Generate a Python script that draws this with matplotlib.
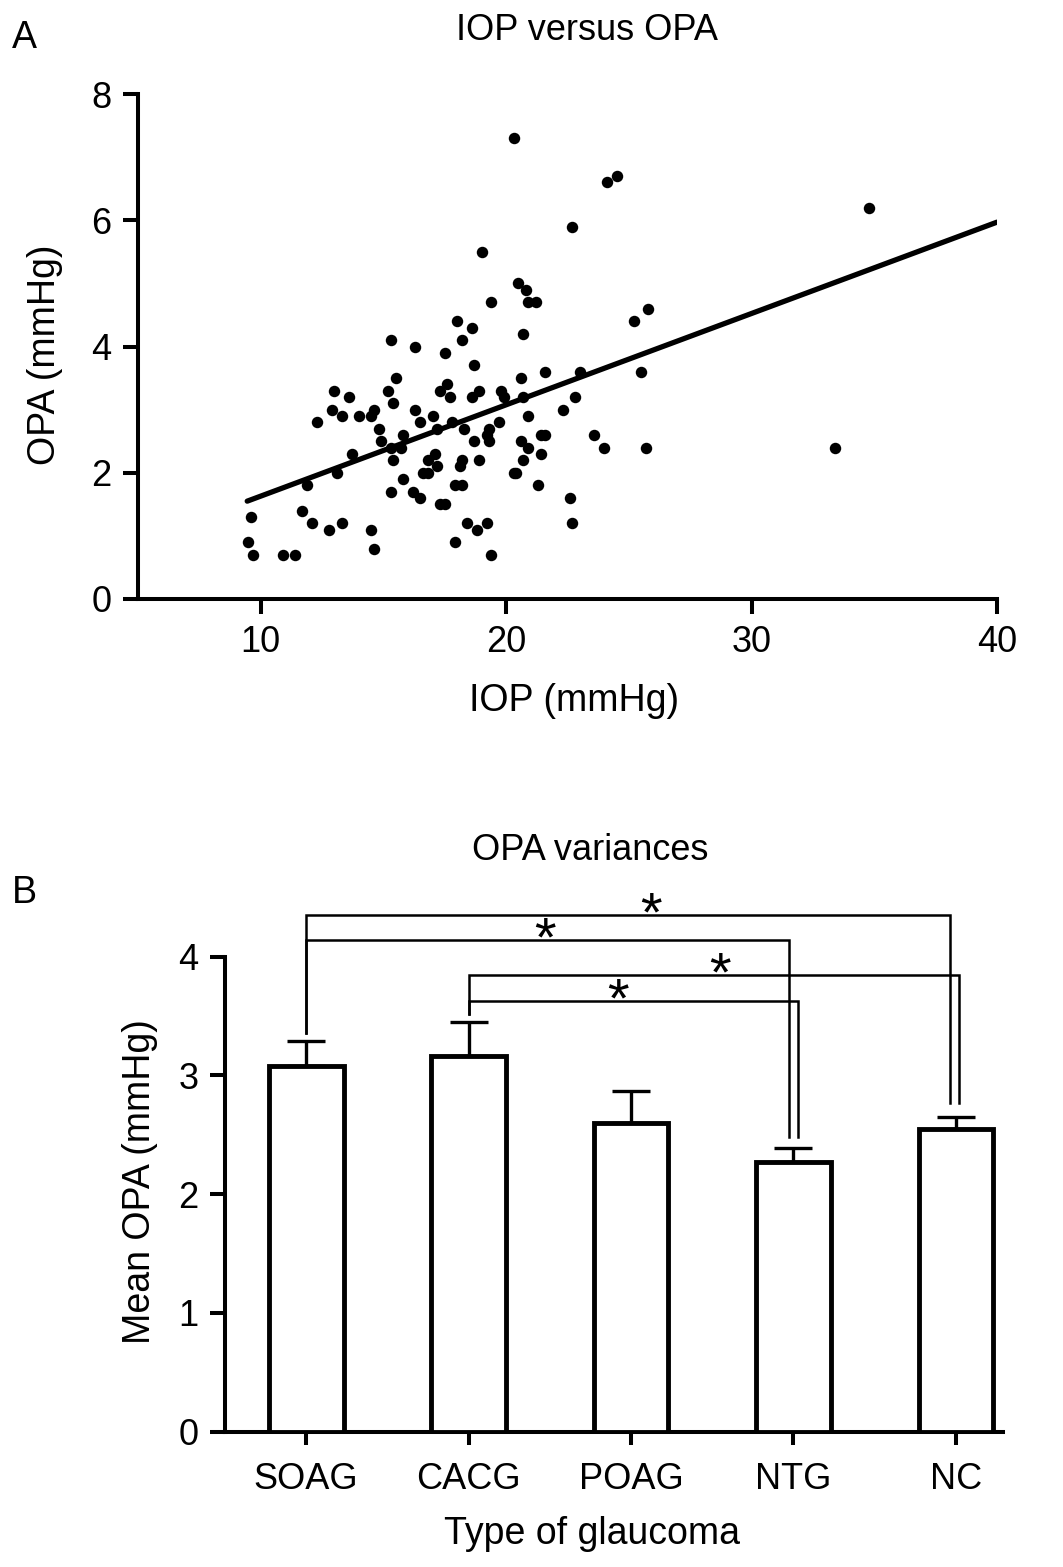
import matplotlib
matplotlib.use('Agg')
import matplotlib.pyplot as plt
import numpy as np

plt.rcParams['font.family'] = ['Liberation Sans', 'DejaVu Sans']

# ---------------- Panel A data ----------------
iop = [15.3, 15.5, 13.0, 13.6, 15.2, 15.4, 12.9, 13.3, 14.0, 14.5, 14.6, 12.3, 14.8, 14.9,
       15.8, 15.7, 13.7, 15.3, 15.4, 13.1, 11.9, 15.8, 15.3, 9.6, 11.7, 12.1, 12.8, 13.3,
       14.5, 9.5, 9.7, 10.9, 11.4, 14.6,
       19.0, 20.5, 20.8, 20.9, 21.2, 19.4, 18.0, 18.6, 18.2, 20.7, 16.3, 17.5, 18.7, 20.6,
       21.6, 17.6, 17.3, 17.7, 18.9, 18.6, 19.8, 19.9, 20.7, 16.3, 17.0, 16.5, 17.8, 18.3,
       19.7, 20.9, 22.3, 18.7, 19.2, 19.3, 19.3, 20.6, 21.4, 21.6, 20.9, 21.4, 20.7, 17.1,
       16.8, 17.2, 18.2, 18.1, 18.9, 16.6, 16.8, 16.2, 16.5, 17.9, 18.2, 20.3, 20.4, 21.3,
       17.3, 17.5, 18.4, 18.8, 19.2, 17.9, 19.4, 17.2,
       20.3, 24.1, 24.5, 22.7, 25.2, 25.8, 25.5, 23.0, 22.8, 23.6, 24.0, 25.7, 22.6, 22.7,
       34.8, 33.4]
opa = [4.1, 3.5, 3.3, 3.2, 3.3, 3.1, 3.0, 2.9, 2.9, 2.9, 3.0, 2.8, 2.7, 2.5,
       2.6, 2.4, 2.3, 2.4, 2.2, 2.0, 1.8, 1.9, 1.7, 1.3, 1.4, 1.2, 1.1, 1.2,
       1.1, 0.9, 0.7, 0.7, 0.7, 0.8,
       5.5, 5.0, 4.9, 4.7, 4.7, 4.7, 4.4, 4.3, 4.1, 4.2, 4.0, 3.9, 3.7, 3.5,
       3.6, 3.4, 3.3, 3.2, 3.3, 3.2, 3.3, 3.2, 3.2, 3.0, 2.9, 2.8, 2.8, 2.7,
       2.8, 2.9, 3.0, 2.5, 2.6, 2.5, 2.7, 2.5, 2.6, 2.6, 2.4, 2.3, 2.2, 2.3,
       2.2, 2.1, 2.2, 2.1, 2.2, 2.0, 2.0, 1.7, 1.6, 1.8, 1.8, 2.0, 2.0, 1.8,
       1.5, 1.5, 1.2, 1.1, 1.2, 0.9, 0.7, 2.7,
       7.3, 6.6, 6.7, 5.9, 4.4, 4.6, 3.6, 3.6, 3.2, 2.6, 2.4, 2.4, 1.6, 1.2,
       6.2, 2.4]
fit_iop = [9.45, 40.0]
fit_opa = [1.55, 5.97]
x_ticks_a = [10, 20, 30, 40]
y_ticks_a = [0, 2, 4, 6, 8]

# ---------------- Panel B data ----------------
groups = ['SOAG', 'CACG', 'POAG', 'NTG', 'NC']
mean_opa = [3.08, 3.16, 2.60, 2.27, 2.55]
sem_opa = [0.21, 0.29, 0.27, 0.12, 0.10]
y_ticks_b = [0, 1, 2, 3, 4]
# significance brackets: left group pos, right end pos, level, left drop, right drop
brk_left = [0.0, 0.0, 1.0, 1.0]
brk_right = [3.963, 2.974, 4.018, 3.030]
brk_level = [4.35, 4.14, 3.85, 3.63]
brk_left_end = [3.36, 3.36, 3.52, 3.52]
brk_right_end = [2.77, 2.48, 2.77, 2.48]
star_x = [2.12, 1.47, 2.55, 1.92]
star_label = ['*', '*', '*', '*']

W, H = 1063, 1567
fig = plt.figure(figsize=(W / 100, H / 100), dpi=100)

LW = 2.9
FS = 26
LFS = 27
TFS = 26

# ---------------- Panel A ----------------
ax1 = fig.add_axes([138 / W, (H - 599) / H, (997 - 138) / W, (599 - 94) / H])
ax1.scatter(iop, opa, s=68, color='black', zorder=3, linewidths=0)
ax1.plot(fit_iop, fit_opa, color='black', lw=3.8, solid_capstyle='round', zorder=2)
ax1.set_xlim(5, 40)
ax1.set_ylim(0, 8)
ax1.set_xticks(x_ticks_a)
ax1.set_yticks(y_ticks_a)
for s in ['top', 'right']:
    ax1.spines[s].set_visible(False)
for s in ['left', 'bottom']:
    ax1.spines[s].set_linewidth(LW)
ax1.tick_params(direction='out', length=11, width=LW, labelsize=FS, pad=8)

fig.text(12 / W, 1 - 48 / H, 'A', fontsize=LFS, ha='left', va='baseline')
fig.text(587 / W, 1 - 40 / H, 'IOP versus OPA', fontsize=TFS, ha='center', va='baseline')
fig.text(45 / W, 1 - 355 / H, 'OPA (mmHg)', fontsize=LFS, rotation=90, ha='center', va='center')
fig.text(574 / W, 1 - 701 / H, 'IOP (mmHg)', fontsize=LFS, ha='center', va='center')

# ---------------- Panel B ----------------
ax2 = fig.add_axes([225 / W, (H - 1431.7) / H, (1003 - 225) / W, (1431.7 - 885.5) / H])
xpos = np.arange(len(groups))
ax2.errorbar(xpos, mean_opa, yerr=[np.zeros(len(groups)), sem_opa], fmt='none',
             ecolor='black', elinewidth=2.4, capsize=14, capthick=2.4, zorder=2)
ax2.bar(xpos, mean_opa, width=0.46, facecolor='white', edgecolor='black',
        linewidth=3.5, zorder=3)
for xl, xr, lv, le, re in zip(brk_left, brk_right, brk_level, brk_left_end, brk_right_end):
    ax2.plot([xl, xl, xr, xr], [le, lv, lv, re], color='black', lw=1.8,
             clip_on=False, zorder=4, solid_joinstyle='miter')
for sx, lv, lab in zip(star_x, brk_level, star_label):
    ax2.text(sx, lv - 0.13, lab, fontsize=40, ha='center', va='baseline', clip_on=False)

ax2.set_xlim(-0.5, 4.29)
ax2.set_ylim(0, 4.6)
ax2.set_yticks(y_ticks_b)
ax2.set_xticks(xpos)
ax2.set_xticklabels(groups)
for s in ['top', 'right']:
    ax2.spines[s].set_visible(False)
for s in ['left', 'bottom']:
    ax2.spines[s].set_linewidth(LW)
ax2.spines['left'].set_bounds(0, 4)
ax2.tick_params(axis='y', direction='out', length=11, width=LW, labelsize=FS, pad=8)
ax2.tick_params(axis='x', direction='out', length=9, width=LW, labelsize=FS, pad=13)

fig.text(12 / W, 1 - 903 / H, 'B', fontsize=LFS, ha='left', va='baseline')
fig.text(590 / W, 1 - 860 / H, 'OPA variances', fontsize=TFS, ha='center', va='baseline')
fig.text(140 / W, 1 - 1182 / H, 'Mean OPA (mmHg)', fontsize=LFS, rotation=90, ha='center', va='center')
fig.text(592 / W, 1 - 1534 / H, 'Type of glaucoma', fontsize=LFS, ha='center', va='center')

fig.savefig('out.png', dpi=100, facecolor='white')
